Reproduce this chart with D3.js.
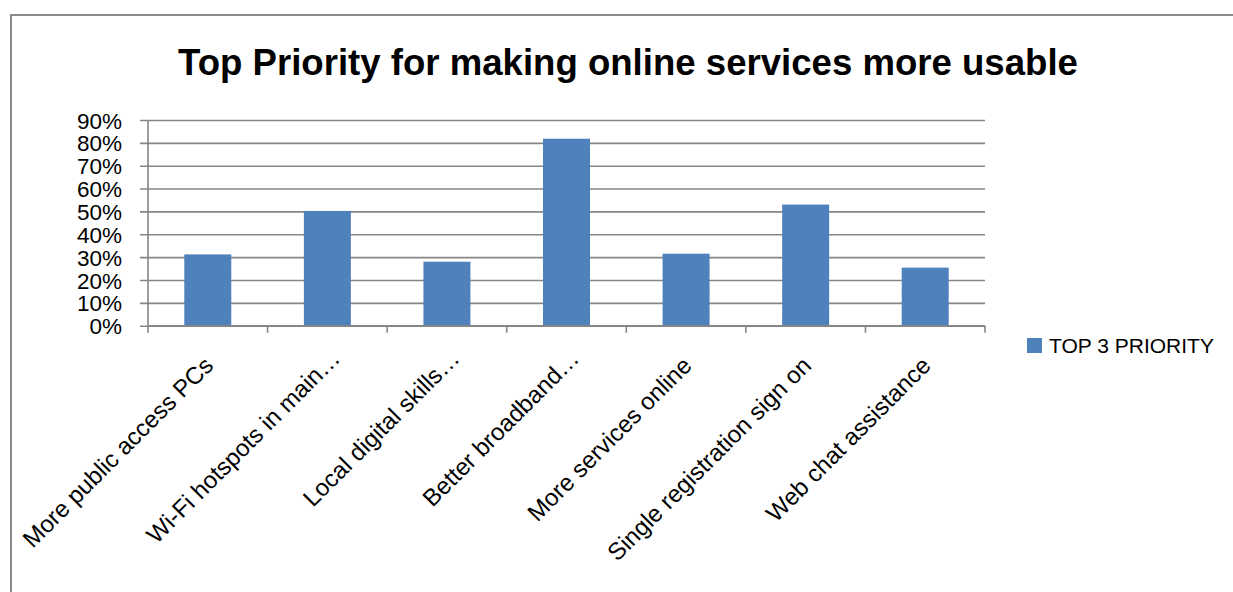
<!DOCTYPE html>
<html>
<head>
<meta charset="utf-8">
<script src="https://cdn.jsdelivr.net/npm/d3@7"></script>
<style>
  html, body { margin: 0; padding: 0; background: #fff; }
  svg { display: block; }
  text { font-family: "Liberation Sans", Arial, sans-serif; fill: #000; }
</style>
</head>
<body>
<svg id="chart" width="1233" height="592"></svg>
<script>
// Survey results: share of respondents ranking each improvement in their top 3
const categories = [
  "More public access PCs",
  "Wi-Fi hotspots in main…",
  "Local digital skills…",
  "Better broadband…",
  "More services online",
  "Single registration sign on",
  "Web chat assistance"
];
const top3Priority = [0.312, 0.502, 0.28, 0.818, 0.315, 0.53, 0.254];
const yTicks = [0, 0.1, 0.2, 0.3, 0.4, 0.5, 0.6, 0.7, 0.8, 0.9];
const seriesName = "TOP 3 PRIORITY";
const chartTitle = "Top Priority for making online services more usable";

const svg = d3.select("#chart");
const W = 1233, H = 592;
const plot = { left: 148, right: 985, top: 120, bottom: 325.7 };
const gridColor = "#868686";
const barColor = "#4f81bd";

// outer chart frame
svg.append("rect")
  .attr("x", 11).attr("y", 15)
  .attr("width", W + 20).attr("height", H + 20)
  .attr("fill", "#fff")
  .attr("stroke", "#8a8a8a")
  .attr("stroke-width", 2);

// title
svg.append("text")
  .attr("x", 628).attr("y", 75)
  .attr("text-anchor", "middle")
  .style("font-weight", "bold")
  .style("font-size", "36.6px")
  .text(chartTitle);

const y = d3.scaleLinear().domain([0, 0.9]).range([plot.bottom, plot.top]);
const xCat = d3.scaleBand().domain(categories).range([plot.left, plot.right]).padding(0);
const xBar = d3.scaleBand().domain(categories).range([plot.left, plot.right])
  .paddingInner(0.607).paddingOuter(0.3035);

// horizontal gridlines with left tick marks
const yAxis = d3.axisLeft(y)
  .tickValues(yTicks)
  .tickSize(-(plot.right - plot.left))
  .tickSizeOuter(0)
  .tickFormat(d3.format(".0%"))
  .tickPadding(0);

const gy = svg.append("g").attr("transform", `translate(${plot.left},0)`).call(yAxis);
gy.select(".domain").remove();
gy.selectAll(".tick line")
  .attr("x1", -8)
  .attr("stroke", gridColor)
  .attr("stroke-width", 1.6);
gy.selectAll(".tick text")
  .attr("x", -26)
  .attr("dy", "0.36em")
  .style("font-size", "22.5px")
  .style("font-family", "'Liberation Sans', Arial, sans-serif");

// vertical axis line
svg.append("line")
  .attr("x1", plot.left).attr("x2", plot.left)
  .attr("y1", plot.top).attr("y2", plot.bottom)
  .attr("stroke", gridColor).attr("stroke-width", 1.6);

// bars
svg.append("g").selectAll("rect")
  .data(categories.map((c, i) => ({ c, v: top3Priority[i] })))
  .join("rect")
  .attr("x", d => xBar(d.c))
  .attr("width", xBar.bandwidth())
  .attr("y", d => y(d.v))
  .attr("height", d => y(0) - y(d.v))
  .attr("fill", barColor);

// category axis: boundary ticks and rotated labels
const boundaries = categories.map(c => xCat(c)).concat([plot.right]);
const gx = svg.append("g");
gx.append("line")
  .attr("x1", plot.left).attr("x2", plot.right)
  .attr("y1", plot.bottom).attr("y2", plot.bottom)
  .attr("stroke", gridColor).attr("stroke-width", 1.6);
gx.selectAll("line.tick")
  .data(boundaries)
  .join("line")
  .attr("class", "tick")
  .attr("x1", d => d).attr("x2", d => d)
  .attr("y1", plot.bottom).attr("y2", plot.bottom + 7)
  .attr("stroke", gridColor).attr("stroke-width", 1.6);

gx.selectAll("text")
  .data(categories)
  .join("text")
  .attr("text-anchor", "end")
  .attr("transform", d => {
    const cx = xCat(d) + xCat.bandwidth() / 2 + 7;
    return `translate(${cx},367) rotate(-45)`;
  })
  // truncated labels sit a little further along their baseline
  .attr("dx", d => d.endsWith("…") ? 10 : 0)
  .style("font-size", "24px")
  .text(d => d);

// legend
const lg = svg.append("g").attr("transform", "translate(1027,338)");
lg.append("rect").attr("width", 15).attr("height", 15).attr("fill", barColor);
lg.append("text")
  .attr("x", 22).attr("y", 15)
  .style("font-size", "21px")
  .text(seriesName);
</script>
</body>
</html>
